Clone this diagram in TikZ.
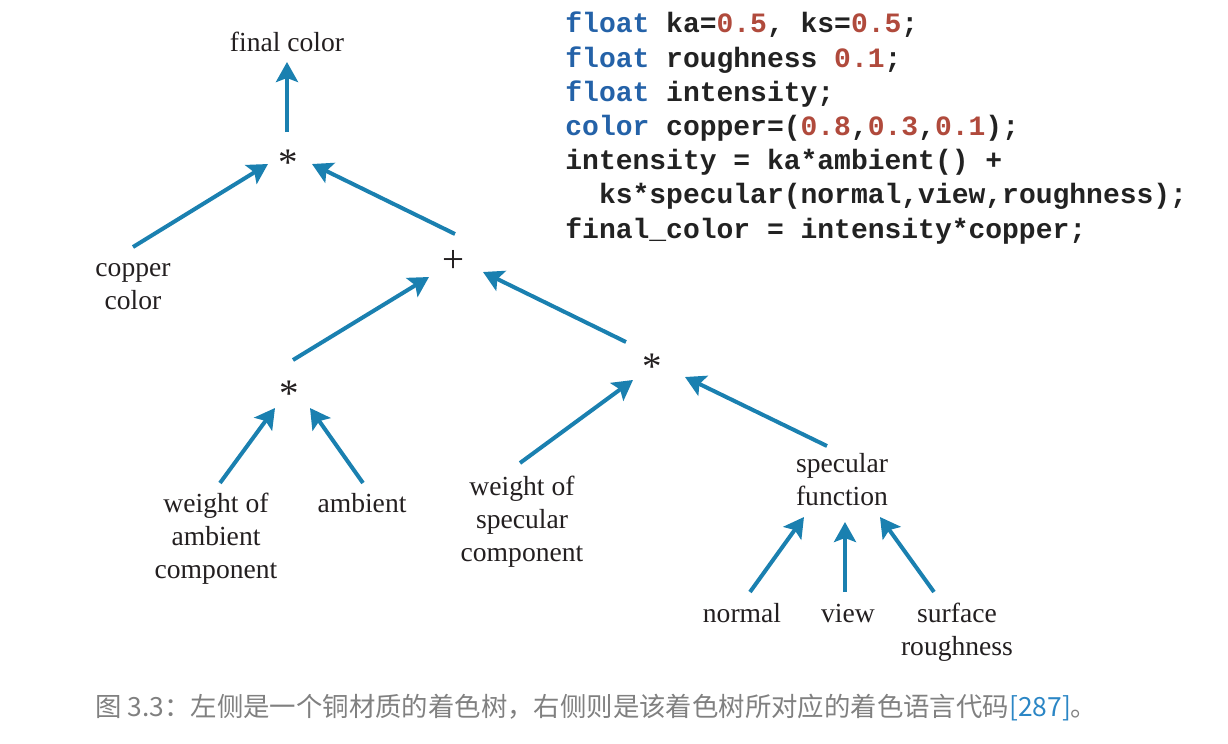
\documentclass[tikz,border=0pt]{standalone}
\usepackage{fontspec}
\setmainfont{Liberation Serif}
\newfontfamily\codefont{Liberation Mono}
\newfontfamily\cjkfont{Noto Sans CJK SC}
\usetikzlibrary{arrows.meta}
\definecolor{arrowblue}{HTML}{1A80B0}
\definecolor{treeink}{HTML}{231F20}
\definecolor{kwblue}{HTML}{2462A8}
\definecolor{numred}{HTML}{B04A3C}
\definecolor{codeink}{HTML}{222222}
\definecolor{capgrey}{HTML}{808080}
\definecolor{refblue}{HTML}{2B86C5}
\newcommand{\kw}[1]{\textcolor{kwblue}{#1}}
\newcommand{\nm}[1]{\textcolor{numred}{#1}}
\begin{document}
\begin{tikzpicture}[x=0.5pt,y=-0.5pt,
  lbl/.style={anchor=base, inner sep=0pt, align=center, text=treeink,
    font=\fontsize{13.8}{16.5}\selectfont},
  opnode/.style={anchor=base, inner sep=0pt, text=treeink,
    font=\fontsize{19.5}{20}\selectfont},
  arr/.style={draw=arrowblue, line width=2pt,
    -{Stealth[length=10pt,width=11pt,inset=2pt]}},
]
\useasboundingbox (0,0) rectangle (1228,744);
% tree nodes (base = baseline of the last line)
\node[lbl] (fc) at (287,51) {final color};
\node[opnode] (s1) at (288,175) {*};
\node[lbl] (cu) at (133,309) {copper\\color};
\node[opnode] (pl) at (453,272) {+};
\node[opnode] (s2) at (289,406) {*};
\node[opnode] (s3) at (652,379) {*};
\node[lbl] (wa) at (216,578) {weight of\\ambient\\component};
\node[lbl] (am) at (362,512) {ambient};
\node[lbl] (ws) at (522,561) {weight of\\specular\\component};
\node[lbl] (sf) at (842,505) {specular\\function};
\node[lbl] (no) at (742,622) {normal};
\node[lbl] (vi) at (848,622) {view};
\node[lbl] (su) at (957,655) {surface\\roughness};
% connectors
\draw[arr] ([shift={(-1,-43)}]s1.base) -- ([shift={(0,11)}]fc.base);
\draw[arr] ([shift={(0,-62)}]cu.base) -- ([shift={(-20,-11)}]s1.base);
\draw[arr] ([shift={(2,-38)}]pl.base) -- ([shift={(24,-11)}]s1.base);
\draw[arr] ([shift={(4,-46)}]s2.base) -- ([shift={(-24,5)}]pl.base);
\draw[arr] ([shift={(-26,-37)}]s3.base) -- ([shift={(30,0)}]pl.base);
\draw[arr] ([shift={(4,-95)}]wa.base) -- ([shift={(-14,2)}]s2.base);
\draw[arr] ([shift={(1,-29)}]am.base) -- ([shift={(21,2)}]s2.base);
\draw[arr] ([shift={(-2,-98)}]ws.base) -- ([shift={(-19,1)}]s3.base);
\draw[arr] ([shift={(-15,-59)}]sf.base) -- ([shift={(33,-2)}]s3.base);
\draw[arr] ([shift={(8,-30)}]no.base) -- ([shift={(-38,12)}]sf.base);
\draw[arr] ([shift={(-3,-30)}]vi.base) -- ([shift={(3,17)}]sf.base);
\draw[arr] ([shift={(-23,-63)}]su.base) -- ([shift={(38,12)}]sf.base);
% code (base = baseline of the last line)
\node[anchor=base west, inner sep=0pt, align=left, text=codeink,
  font=\codefont\bfseries\fontsize{14}{17.1}\selectfont] (code) at (565,238)
 {\kw{float} ka=\nm{0.5}, ks=\nm{0.5};\\
  \kw{float} roughness \nm{0.1};\\
  \kw{float} intensity;\\
  \kw{color} copper=(\nm{0.8},\nm{0.3},\nm{0.1});\\
  intensity = ka*ambient() +\\
  \phantom{ks}ks*specular(normal,view,roughness);\\
  final\_color = intensity*copper;};
% caption
\node[anchor=base west, inner sep=0pt, text=capgrey,
  font=\cjkfont\fontsize{13.2}{16}\selectfont] (cap) at (95,716)
 {图 3.3：左侧是一个铜材质的着色树，右侧则是该着色树所对应的着色语言代码\textcolor{refblue}{[287]}。};
\end{tikzpicture}
\end{document}
